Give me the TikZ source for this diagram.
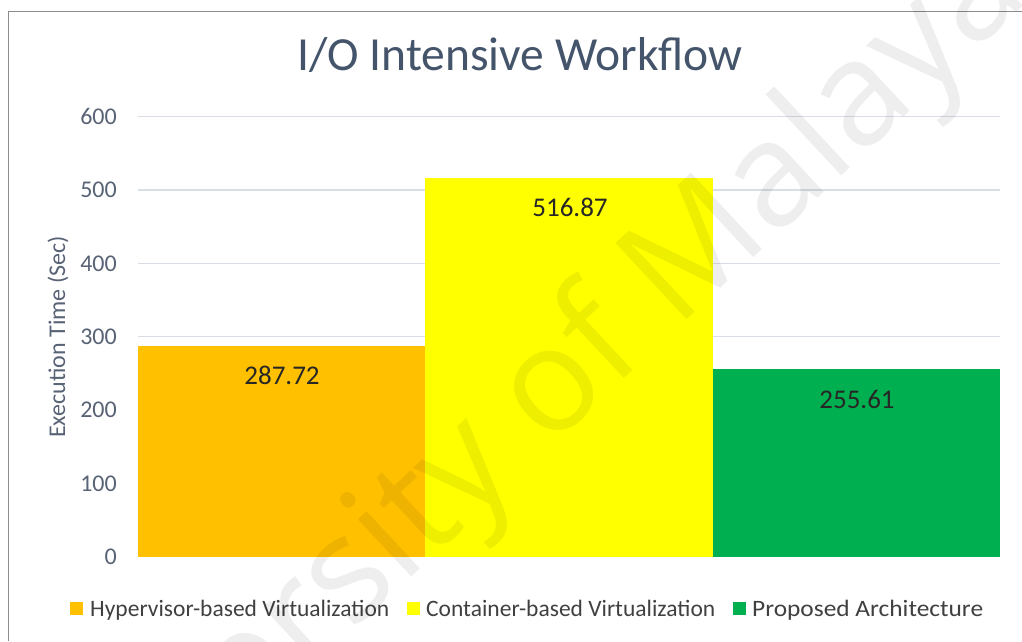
\documentclass[tikz,border=0pt]{standalone}
\usepackage{fontspec}
\setmainfont{Carlito}
\newfontfamily\wmfont{Open Sans}

\definecolor{titlecol}{RGB}{68,84,106}
\definecolor{axiscol}{RGB}{89,99,118}
\definecolor{gridcol}{RGB}{217,222,230}
\definecolor{framecol}{RGB}{140,140,140}
\definecolor{hypcol}{RGB}{255,192,0}
\definecolor{concol}{RGB}{255,255,0}
\definecolor{propcol}{RGB}{0,176,80}
\definecolor{labelcol}{RGB}{38,38,38}
\definecolor{legcol}{RGB}{64,64,64}

\begin{document}
\begin{tikzpicture}[x=1pt,y=-1pt,
  gridline/.style={draw=gridcol,line width=1.5pt},
  ticklabel/.style={anchor=east,inner sep=0pt,text=axiscol,font=\fontsize{24}{24}\selectfont},
  datalabel/.style={inner sep=0pt,text=labelcol,font=\fontsize{27}{27}\selectfont},
  legendkey/.style={minimum size=13pt,inner sep=0pt,anchor=north west},
  legendtext/.style={anchor=base west,inner sep=0pt,text=legcol,font=\fontsize{23.5}{23.5}\selectfont},
]
\useasboundingbox (0,0) rectangle (1022,641);
\fill[white] (0,0) rectangle (1022,641);

% chart frame (top and left edges)
\draw[framecol,line width=1.5pt] (8.3,641) -- (8.3,11.5) -- (1022,11.5);

% title
\node[anchor=base,inner sep=0pt,text=titlecol,font=\fontsize{47.5}{47.5}\selectfont]
  (title) at (520,70) {I/O Intensive Workflow};

% horizontal gridlines and value axis labels (100 units = 73.33 px)
\foreach \v/\yy in {0/556.7,100/483.4,200/410.0,300/336.7,400/263.4,500/190.0,600/116.7}{
  \draw[gridline] (138,\yy) -- (1000,\yy);
  \node[ticklabel] (tick\v) at (117,\yy) {\v};
}

% axis title
\node[rotate=90,inner sep=0pt,text=axiscol,font=\fontsize{24}{24}\selectfont]
  (ytitle) at (58,337) {Execution Time (Sec)};

% bars
\fill[hypcol]  (138,345.8) rectangle (425.3,556.7);
\fill[concol]  (425.3,177.8) rectangle (712.6,556.7);
\fill[propcol] (712.6,369.3) rectangle (1000,556.7);

% data labels
\node[datalabel] (lblhyp)  at (282,375) {287.72};
\node[datalabel] (lblcon)  at (570,207) {516.87};
\node[datalabel] (lblprop) at (857,399) {255.61};

% legend
\node[legendkey,fill=hypcol]  (keyhyp)  at (70,602) {};
\node[legendtext] (txthyp)  at (90,616) {Hypervisor-based Virtualization};
\node[legendkey,fill=concol]  (keycon)  at (407,602) {};
\node[legendtext] (txtcon)  at (426,616) {Container-based Virtualization};
\node[legendkey,fill=propcol] (keyprop) at (733,602) {};
\node[legendtext] (txtprop) at (752,616) {\scalebox{1.08}[1]{Proposed Architecture}};

% diagonal watermark
\begin{scope}
  \clip (0,0) rectangle (1022,641);
  \node[rotate=43,inner sep=0pt,text=black,text opacity=0.065,
        font=\wmfont\fontsize{146}{146}\selectfont]
    (watermark) at (502,440) {University of Malaya};
\end{scope}
\end{tikzpicture}
\end{document}
